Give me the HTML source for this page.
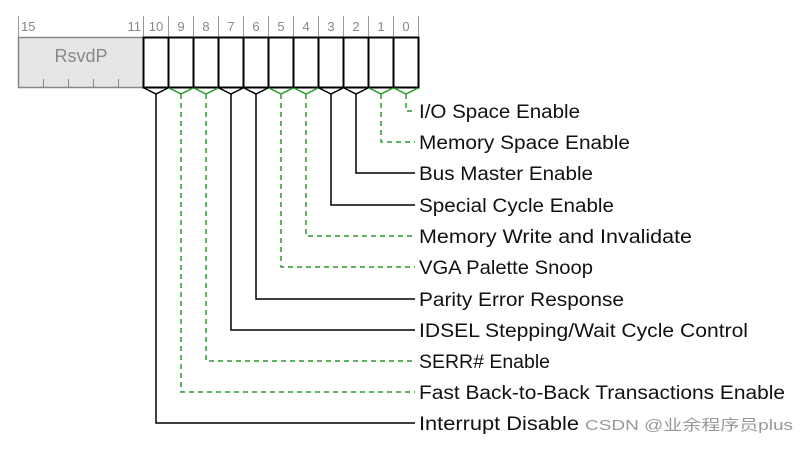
<!DOCTYPE html>
<html><head><style>body{margin:0;background:#fff}</style></head><body>
<svg width="809" height="445" xmlns="http://www.w3.org/2000/svg" font-family="Liberation Sans, sans-serif">
<rect width="809" height="445" fill="#fff"/>
<g stroke="#999" stroke-width="1">
<line x1="18.5" y1="16" x2="18.5" y2="37"/>
<line x1="143.5" y1="16" x2="143.5" y2="37"/>
<line x1="168.5" y1="16" x2="168.5" y2="37"/>
<line x1="193.5" y1="16" x2="193.5" y2="37"/>
<line x1="218.5" y1="16" x2="218.5" y2="37"/>
<line x1="243.5" y1="16" x2="243.5" y2="37"/>
<line x1="268.5" y1="16" x2="268.5" y2="37"/>
<line x1="293.5" y1="16" x2="293.5" y2="37"/>
<line x1="318.5" y1="16" x2="318.5" y2="37"/>
<line x1="343.5" y1="16" x2="343.5" y2="37"/>
<line x1="368.5" y1="16" x2="368.5" y2="37"/>
<line x1="393.5" y1="16" x2="393.5" y2="37"/>
<line x1="418.5" y1="16" x2="418.5" y2="37"/>
</g>
<g fill="#888" font-size="13">
<text x="21" y="31">15</text>
<text x="141" y="31" text-anchor="end">11</text>
<text x="156" y="31" text-anchor="middle">10</text>
<text x="181" y="31" text-anchor="middle">9</text>
<text x="206" y="31" text-anchor="middle">8</text>
<text x="231" y="31" text-anchor="middle">7</text>
<text x="256" y="31" text-anchor="middle">6</text>
<text x="281" y="31" text-anchor="middle">5</text>
<text x="306" y="31" text-anchor="middle">4</text>
<text x="331" y="31" text-anchor="middle">3</text>
<text x="356" y="31" text-anchor="middle">2</text>
<text x="381" y="31" text-anchor="middle">1</text>
<text x="406" y="31" text-anchor="middle">0</text>
</g>
<rect x="18.5" y="37.5" width="125" height="50" fill="#e6e6e6" stroke="#888" stroke-width="1.5"/>
<g stroke="#888"><line x1="43.5" y1="79" x2="43.5" y2="87"/><line x1="68.5" y1="79" x2="68.5" y2="87"/><line x1="93.5" y1="79" x2="93.5" y2="87"/><line x1="118.5" y1="79" x2="118.5" y2="87"/></g>
<text x="81" y="62" fill="#888" font-size="18" text-anchor="middle">RsvdP</text>
<g fill="none" stroke="#000" stroke-width="2">
<rect x="143.5" y="37.5" width="275" height="50"/>
<line x1="168.5" y1="37" x2="168.5" y2="88"/><line x1="193.5" y1="37" x2="193.5" y2="88"/><line x1="218.5" y1="37" x2="218.5" y2="88"/><line x1="243.5" y1="37" x2="243.5" y2="88"/><line x1="268.5" y1="37" x2="268.5" y2="88"/><line x1="293.5" y1="37" x2="293.5" y2="88"/><line x1="318.5" y1="37" x2="318.5" y2="88"/><line x1="343.5" y1="37" x2="343.5" y2="88"/><line x1="368.5" y1="37" x2="368.5" y2="88"/><line x1="393.5" y1="37" x2="393.5" y2="88"/>
</g>
<!-- connectors -->
<g fill="none" stroke-width="1.5">
<path d="M144,88 L156,94 L168,88 M156,94 V423 H415" stroke="#000"/>
<path d="M169,88 L181,94 L193,88" stroke="#2a9a2a"/><path d="M181,94 V392 H415" stroke="#2a9a2a" stroke-dasharray="5,4"/>
<path d="M194,88 L206,94 L218,88" stroke="#2a9a2a"/><path d="M206,94 V361 H415" stroke="#2a9a2a" stroke-dasharray="5,4"/>
<path d="M219,88 L231,94 L243,88 M231,94 V330 H415" stroke="#000"/>
<path d="M244,88 L256,94 L268,88 M256,94 V299 H415" stroke="#000"/>
<path d="M269,88 L281,94 L293,88" stroke="#2a9a2a"/><path d="M281,94 V267 H415" stroke="#2a9a2a" stroke-dasharray="5,4"/>
<path d="M294,88 L306,94 L318,88" stroke="#2a9a2a"/><path d="M306,94 V236 H415" stroke="#2a9a2a" stroke-dasharray="5,4"/>
<path d="M319,88 L331,94 L343,88 M331,94 V205 H415" stroke="#000"/>
<path d="M344,88 L356,94 L368,88 M356,94 V173 H415" stroke="#000"/>
<path d="M369,88 L381,94 L393,88" stroke="#2a9a2a"/><path d="M381,94 V142 H415" stroke="#2a9a2a" stroke-dasharray="5,4"/>
<path d="M394,88 L406,94 L418,88" stroke="#2a9a2a"/><path d="M406,94 V111 H415" stroke="#2a9a2a" stroke-dasharray="5,4"/>
</g>
<g fill="#111" font-size="19" lengthAdjust="spacingAndGlyphs">
<text x="419" y="118" textLength="161" lengthAdjust="spacingAndGlyphs">I/O Space Enable</text>
<text x="419" y="149" textLength="211" lengthAdjust="spacingAndGlyphs">Memory Space Enable</text>
<text x="419" y="180" textLength="174" lengthAdjust="spacingAndGlyphs">Bus Master Enable</text>
<text x="419" y="212" textLength="195" lengthAdjust="spacingAndGlyphs">Special Cycle Enable</text>
<text x="419" y="243" textLength="273" lengthAdjust="spacingAndGlyphs">Memory Write and Invalidate</text>
<text x="419" y="274" textLength="174" lengthAdjust="spacingAndGlyphs">VGA Palette Snoop</text>
<text x="419" y="306" textLength="205" lengthAdjust="spacingAndGlyphs">Parity Error Response</text>
<text x="419" y="337" textLength="329" lengthAdjust="spacingAndGlyphs">IDSEL Stepping/Wait Cycle Control</text>
<text x="419" y="368" textLength="131" lengthAdjust="spacingAndGlyphs">SERR# Enable</text>
<text x="419" y="399" textLength="366" lengthAdjust="spacingAndGlyphs">Fast Back-to-Back Transactions Enable</text>
<text x="419" y="430" textLength="160" lengthAdjust="spacingAndGlyphs">Interrupt Disable</text>
</g>
<text x="585" y="430" fill="#999" font-size="15" textLength="208" lengthAdjust="spacingAndGlyphs" font-family="Liberation Sans, Noto Sans CJK SC, sans-serif">CSDN @业余程序员plus</text>
</svg>
</body></html>
